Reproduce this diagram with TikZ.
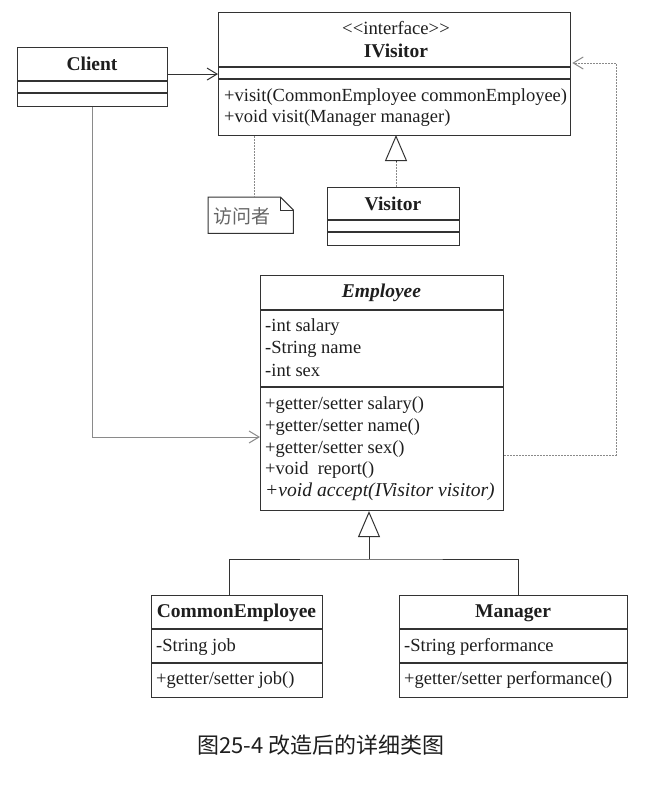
\documentclass[tikz,border=0pt]{standalone}
\usepackage{fontspec}
\setmainfont{Liberation Serif}
\newfontfamily\cjk{Noto Sans CJK SC}
\usetikzlibrary{calc,arrows.meta}
\definecolor{boxc}{HTML}{333333}
\definecolor{txtc}{HTML}{1E1E1E}
\definecolor{linec}{HTML}{8A8A8A}
\tikzset{
  classbox/.style={draw=boxc, line width=1.1pt, minimum width=#1, inner sep=0pt, anchor=north west},
  cls/.style={font=\fontsize{19.5}{21}\selectfont\bfseries, text=txtc, inner sep=0pt},
  mem/.style={font=\fontsize{18.5}{20}\selectfont, text=txtc, inner sep=0pt, anchor=west},
  sep/.style={draw=boxc, line width=1.1pt},
  assoc/.style={draw=#1, line width=1pt, -{Straight Barb[length=10pt,width=12pt,line width=1pt]}},
  dep/.style={draw=linec, line width=1pt, dash pattern=on 2pt off 1pt, -{Straight Barb[length=10pt,width=12pt,line width=1pt,sep]}},
  real/.style={draw=linec, line width=1pt, dash pattern=on 2pt off 1pt},
  gentip/.style={draw=boxc, line width=1pt, -{Triangle[open,fill=white,length=26pt,width=22pt,line width=1pt]}},
}
\newcommand{\compline}[2]{\draw[sep] ($(#1.north west)+(0,#2)$) -- ($(#1.north east)+(0,#2)$);}
\begin{document}
\begin{tikzpicture}[x=1pt,y=-1pt]
\useasboundingbox[fill=white] (0,0) rectangle (645,790);

% Client
\node[classbox=150pt, minimum height=59pt] (client) at (17,47) {};
\node[cls] (clientname) at (92,64) {Client};
\compline{client}{34}
\compline{client}{46}

% IVisitor
\node[classbox=352pt, minimum height=123pt] (ivis) at (218,12) {};
\node[cls, font=\fontsize{18.7}{20}\selectfont] (ivisster) at (396,28) {<{}<interface>{}>};
\node[cls] (ivisname) at (396,51) {IVisitor};
\compline{ivis}{55}
\compline{ivis}{67}
\node[mem] (iv1) at (224,97) {+visit(CommonEmployee commonEmployee)};
\node[mem] (iv2) at (224,118) {+void visit(Manager manager)};

% Note
\node[minimum width=85pt, minimum height=36pt, inner sep=0pt, anchor=north west] (note) at (208,197) {};
\draw[boxc, line width=1pt] (note.north west) -- ($(note.north east)+(-13,0)$) -- ($(note.north east)+(0,13)$) -- (note.south east) -- (note.south west) -- cycle;
\draw[boxc, line width=0.8pt] ($(note.north east)+(-13,0)$) -- ($(note.north east)+(-13,13)$) -- ($(note.north east)+(0,13)$);
\node[font=\cjk\fontsize{19}{21}\selectfont, text=gray!80!black, inner sep=0pt, anchor=west] (notetext) at (213,216) {访问者};

% Visitor
\node[classbox=132pt, minimum height=58pt] (vis) at (327,187) {};
\node[cls] (visname) at (393,204) {Visitor};
\compline{vis}{33}
\compline{vis}{45}

% Employee
\node[classbox=243pt, minimum height=235pt] (emp) at (260,275) {};
\node[cls, font=\fontsize{19.5}{21}\selectfont\bfseries\itshape] (empname) at (381.5,293) {Employee};
\compline{emp}{35}
\compline{emp}{112}
\node[mem] (ea1) at (265,327) {-int salary};
\node[mem] (ea2) at (265,349) {-String name};
\node[mem] (ea3) at (265,370) {-int sex};
\node[mem] (em1) at (265,405) {+getter/setter salary()};
\node[mem] (em2) at (265,427) {+getter/setter name()};
\node[mem] (em3) at (265,449) {+getter/setter sex()};
\node[mem] (em4) at (265,470) {+void\ \ report()};
\node[mem, font=\fontsize{19.6}{20}\selectfont\itshape] (em5) at (265,492) {+void accept(IVisitor visitor)};

% CommonEmployee
\node[classbox=171pt, minimum height=102pt] (ce) at (151,595) {};
\node[cls] (cename) at (236.5,613) {CommonEmployee};
\compline{ce}{34}
\compline{ce}{68}
\node[mem] (ce1) at (156,647) {-String job};
\node[mem] (ce2) at (156,680) {+getter/setter job()};

% Manager
\node[classbox=228pt, minimum height=102pt] (mgr) at (399,595) {};
\node[cls] (mgrname) at (513,613) {Manager};
\compline{mgr}{34}
\compline{mgr}{68}
\node[mem] (mg1) at (404,647) {-String performance};
\node[mem] (mg2) at (404,680) {+getter/setter performance()};

% Connectors
\draw[assoc=boxc] (ivis.west -| client.east) -- (ivis.west);
\draw[assoc=linec] (client.south) |- ($(emp.north west)+(0,162)$);
\coordinate (dr) at (616,63);
\draw[dep] ($(emp.north east)+(0,180)$) -| (dr) -- (dr -| ivis.east);
\draw[real] ($(ivis.south west)+(36,0)$) -- ($(note.north west)+(46,0)$);
\coordinate (vtop) at (396,187);
\draw[real] (vtop) -- (396,162);
\draw[gentip] (396,162) -- (396,135);
\coordinate (g) at (369,559);
\draw[gentip] (g) -- (g |- emp.south);
\draw[boxc, line width=1pt] ([xshift=-7.5pt]ce.north) |- (g) -| ([xshift=5pt]mgr.north);

% Caption
\node[font=\cjk\fontsize{22}{24}\selectfont, text=txtc, inner sep=0pt] (caption) at (321,745) {图25-4 改造后的详细类图};
\end{tikzpicture}
\end{document}
